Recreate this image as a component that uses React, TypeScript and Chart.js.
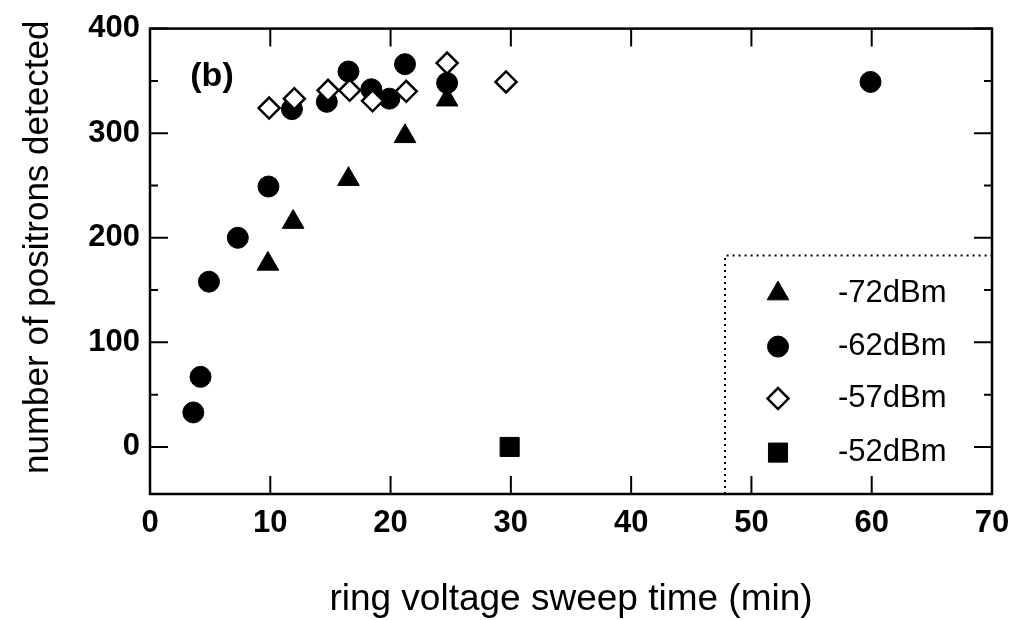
import React, { useEffect, useRef } from 'react';
import { Chart, registerables } from 'chart.js';
import { drawPoint } from 'chart.js/helpers';
Chart.register(...registerables);

// ---- data ----
const xTicks = [0, 10, 20, 30, 40, 50, 60, 70];
const yTicks = [0, 100, 200, 300, 400];
const yMinorTicks = [50, 150, 250, 350];

const seriesLabels = ['-72dBm', '-62dBm', '-57dBm', '-52dBm'];
const xTitle = 'ring voltage sweep time (min)';
const yTitle = 'number of positrons detected';
const panelLabel = '(b)';

const x72 = [9.8, 11.9, 16.5, 21.2, 24.7];
const y72 = [175, 215, 256, 297, 332];

const x62 = [3.6, 4.2, 4.9, 7.3, 9.85, 11.8, 14.7, 16.5, 18.4, 19.9, 21.2, 24.7, 59.9];
const y62 = [33, 67, 158, 200, 249, 323, 330, 359, 342, 333, 366, 348, 349];

const x57 = [9.9, 12.0, 14.8, 16.6, 18.5, 21.3, 24.7, 29.6];
const y57 = [324, 333, 341, 341, 331, 340, 367, 349];

const x52 = [29.9];
const y52 = [0];

const FONT = "'Liberation Sans', Arial, Helvetica, sans-serif";

const toPts = (xs: number[], ys: number[]) => xs.map((x, i) => ({ x, y: ys[i] }));

const framePlugin = {
  id: 'frameTicksLegend',
  afterDatasetsDraw(chart: any) {
    const { ctx, chartArea } = chart;
    const { left, right, top, bottom } = chartArea;
    const xs = chart.scales.x;
    const ys = chart.scales.y;
    ctx.save();
    ctx.strokeStyle = '#000';
    ctx.lineWidth = 2;
    ctx.setLineDash([]);
    ctx.beginPath();
    xTicks.forEach((v) => {
      const px = xs.getPixelForValue(v);
      ctx.moveTo(px, bottom);
      ctx.lineTo(px, bottom - 18);
      ctx.moveTo(px, top);
      ctx.lineTo(px, top + 18);
    });
    yTicks.forEach((v) => {
      const py = ys.getPixelForValue(v);
      ctx.moveTo(left, py);
      ctx.lineTo(left + 18, py);
      ctx.moveTo(right, py);
      ctx.lineTo(right - 18, py);
    });
    yMinorTicks.forEach((v) => {
      const py = ys.getPixelForValue(v);
      ctx.moveTo(left, py);
      ctx.lineTo(left + 8, py);
      ctx.moveTo(right, py);
      ctx.lineTo(right - 8, py);
    });
    ctx.stroke();

    // legend box (dotted top and left edges)
    const lx = right - 267;
    const ly = top + 227;
    ctx.lineWidth = 2;
    ctx.setLineDash([2, 4]);
    ctx.beginPath();
    ctx.moveTo(lx, bottom);
    ctx.lineTo(lx, ly);
    ctx.lineTo(right, ly);
    ctx.stroke();
    ctx.setLineDash([]);

    const rowsY = [38, 91, 143, 197];
    chart.data.datasets.forEach((ds: any, i: number) => {
      const mx = lx + 53;
      const my = ly + rowsY[i];
      ctx.fillStyle = ds.backgroundColor;
      ctx.strokeStyle = ds.borderColor;
      ctx.lineWidth = ds.borderWidth;
      drawPoint(ctx, { pointStyle: ds.pointStyle, radius: ds.pointRadius, rotation: 0, borderWidth: ds.borderWidth }, mx, my);
      ctx.fillStyle = '#000';
      ctx.font = `31px ${FONT}`;
      ctx.textAlign = 'left';
      ctx.textBaseline = 'middle';
      ctx.fillText(ds.label, lx + 113, my);
    });

    // panel label
    ctx.fillStyle = '#000';
    ctx.font = `bold 34px ${FONT}`;
    ctx.textAlign = 'center';
    ctx.textBaseline = 'middle';
    ctx.fillText(panelLabel, left + 62, top + 48);

    // frame
    ctx.lineWidth = 2.5;
    ctx.strokeStyle = '#000';
    ctx.strokeRect(left, top, right - left, bottom - top);

    // y axis title
    ctx.save();
    ctx.translate(38, (top + bottom) / 2 - 14);
    ctx.rotate(-Math.PI / 2);
    ctx.font = `35px ${FONT}`;
    ctx.textAlign = 'center';
    ctx.textBaseline = 'middle';
    ctx.fillStyle = '#000';
    ctx.fillText(yTitle, 0, 0);
    ctx.restore();

    ctx.restore();
  },
};

export default function App() {
  const ref = useRef<HTMLCanvasElement | null>(null);
  useEffect(() => {
    if (!ref.current) return;
    Chart.defaults.font.family = FONT;
    Chart.defaults.color = '#000';
    const chart = new Chart(ref.current, {
      type: 'scatter',
      data: {
        datasets: [
          {
            label: seriesLabels[0],
            data: toPts(x72, y72),
            pointStyle: 'triangle',
            pointRadius: 12.5,
            backgroundColor: '#000',
            borderColor: '#000',
            borderWidth: 1,
            order: 3,
          },
          {
            label: seriesLabels[1],
            data: toPts(x62, y62),
            pointStyle: 'circle',
            pointRadius: 10.5,
            backgroundColor: '#000',
            borderColor: '#000',
            borderWidth: 1,
            order: 2,
          },
          {
            label: seriesLabels[2],
            data: toPts(x57, y57),
            pointStyle: 'rectRot',
            pointRadius: 10.5,
            backgroundColor: '#fff',
            borderColor: '#000',
            borderWidth: 2.5,
            order: 1,
          },
          {
            label: seriesLabels[3],
            data: toPts(x52, y52),
            pointStyle: 'rect',
            pointRadius: 13.5,
            backgroundColor: '#000',
            borderColor: '#000',
            borderWidth: 1,
            order: 0,
          },
        ] as any,
      },
      options: {
        responsive: false,
        animation: false,
        layout: { padding: { top: 23, right: 32, left: 0, bottom: 0 } },
        plugins: { legend: { display: false }, tooltip: { enabled: false } },
        elements: { point: { hoverRadius: 0 } },
        clip: false as any,
        scales: {
          x: {
            type: 'linear',
            min: 0,
            max: 70,
            afterBuildTicks: (s: any) => {
              s.ticks = xTicks.map((v) => ({ value: v }));
            },
            afterFit: (s: any) => {
              s.height = 126;
            },
            grid: { display: false, drawTicks: false },
            border: { display: false },
            ticks: { font: { size: 31, weight: 'bold' }, color: '#000', padding: 11, maxRotation: 0, autoSkip: false },
            title: {
              display: true,
              text: xTitle,
              font: { size: 37, lineHeight: 1 },
              color: '#000',
              padding: { top: 0, bottom: 2 },
            },
          },
          y: {
            type: 'linear',
            min: -45,
            max: 400,
            afterBuildTicks: (s: any) => {
              s.ticks = yTicks.map((v) => ({ value: v }));
            },
            afterFit: (s: any) => {
              s.width = 150;
            },
            grid: { display: false, drawTicks: false },
            border: { display: false },
            ticks: { font: { size: 31, weight: 'bold' }, color: '#000', padding: 10, autoSkip: false },
            title: { display: false },
          },
        },
      } as any,
      plugins: [framePlugin],
    });
    return () => chart.destroy();
  }, []);
  return (
    <div style={{ position: 'absolute', left: 0, top: 0, width: 1024, height: 620, background: '#fff' }}>
      <canvas ref={ref} width={1024} height={620} style={{ display: 'block' }} />
    </div>
  );
}
